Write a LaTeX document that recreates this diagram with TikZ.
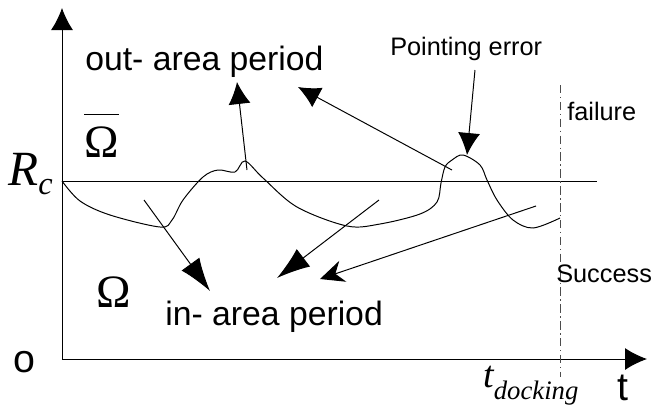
\documentclass[tikz,border=0pt]{standalone}
\usepackage{fontspec}
\setmainfont{Liberation Sans}
\newfontfamily\serif{Liberation Serif}
\usetikzlibrary{calc}
\usetikzlibrary{arrows.meta}

\begin{document}
\begin{tikzpicture}
\tikzstyle{thin} =[draw,line width=0.7pt]
\tikzstyle{pointer} =[thin,-{Latex[length=5.5mm,width=5.5mm]}]
\tikzstyle{bigpointer} =[thin,-{Latex[length=8.3mm,width=5.5mm]}]
\tikzstyle{notchpointer} =[thin,-{Stealth[length=6mm,width=5.5mm]}]
\tikzstyle{label} =[inner sep=0pt,anchor=base west]
\useasboundingbox (-1.55,-1.2) rectangle (14.75,8.975);
\coordinate (orig) at (0,0);

% axes
\coordinate (ytop) at ($(orig)+(0,8.775)$);
\coordinate (xend) at ($(orig)+(14.625,0)$);
\draw[pointer] (orig)--(ytop);
\draw[pointer] (orig)--(xend);

% R_c level and docking time
\coordinate (rcleft) at ($(orig)+(0,4.45)$);
\coordinate (rcright) at ($(orig)+(13.375,4.45)$);
\draw[thin] (rcleft)--(rcright);
\coordinate (dockup) at ($(orig)+(12.45,6.85)$);
\coordinate (dockdown) at ($(orig)+(12.45,-0.45)$);
\draw[thin,draw=black!70,dash pattern=on 6pt off 2.5pt on 1pt off 2.5pt] (dockup)--(dockdown);

% pointing error trace
\draw[thin] plot[smooth,tension=0.55] coordinates {
(0,4.45) (0.45,3.95) (1.2,3.6) (2.45,3.3) (2.75,3.475) (3.025,3.975)
(3.525,4.55) (3.9,4.725) (4.325,4.675) (4.575,4.95) (5.025,4.525)
(5.875,3.8) (7.125,3.325) (7.95,3.375) (8.95,3.625) (9.375,3.925)
(9.475,4.4) (9.575,4.8) (9.75,4.975) (10.025,5.1) (10.45,4.85)
(10.625,4.475) (10.875,3.975) (11.275,3.475) (11.775,3.275) (12.45,3.525)};

% labels
\node[label](outlbl) at ($(orig)+(0.575,7.225)$){\fontsize{24}{28}\selectfont out- area period};
\node[label](inlbl) at ($(orig)+(2.575,0.85)$){\fontsize{24}{28}\selectfont in- area period};
\node[label](errlbl) at ($(orig)+(8.2,7.6)$){\fontsize{18}{21}\selectfont Pointing error};
\node[label](faillbl) at ($(orig)+(12.625,5.975)$){\fontsize{18}{21}\selectfont failure};
\node[label](succlbl) at ($(orig)+(12.35,1.925)$){\fontsize{18}{21}\selectfont Success};
\node[label](olbl) at ($(orig)+(-1.225,-0.325)$){\fontsize{28}{32}\selectfont o};
\node[label](tlbl) at ($(orig)+(13.875,-1.025)$){\fontsize{28}{32}\selectfont t};
\node[label](rclbl) at ($(orig)+(-1.35,4.35)$){\serif\itshape\fontsize{35}{40}\selectfont R\raisebox{-7pt}{\fontsize{23}{26}\selectfont c}};
\node[label](outset) at ($(orig)+(0.55,5.05)$){\fontsize{33}{38}\selectfont$\overline{\hbox{\serif\rule{0pt}{0.88em}Ω}}$};
\node[label](inset) at ($(orig)+(0.85,1.3)$){\serif\fontsize{33}{38}\selectfont Ω};
\node[label](tdock) at ($(orig)+(10.525,-0.7)$){\serif\itshape\fontsize{27}{30}\selectfont t\raisebox{-9pt}{\fontsize{19}{22}\selectfont docking}};

% pointers to out-area periods
\coordinate (bumpA) at ($(orig)+(4.625,4.725)$);
\coordinate (outtipA) at ($(orig)+(4.375,6.925)$);
\draw[pointer] (bumpA)--(outtipA);
\coordinate (bumpB) at ($(orig)+(9.75,4.725)$);
\coordinate (outtipB) at ($(orig)+(5.9,6.8)$);
\draw[pointer] (bumpB)--(outtipB);
\coordinate (errfrom) at ($(orig)+(10.325,7.225)$);
\coordinate (errtip) at ($(orig)+(10.125,5.1)$);
\draw[pointer] (errfrom)--(errtip);

% pointers to in-area periods
\coordinate (dipA) at ($(orig)+(2.05,3.975)$);
\coordinate (intipA) at ($(orig)+(3.7,1.7)$);
\draw[bigpointer] (dipA)--(intipA);
\coordinate (dipB) at ($(orig)+(7.925,3.975)$);
\coordinate (intipB) at ($(orig)+(5.375,2.025)$);
\draw[bigpointer] (dipB)--(intipB);
\coordinate (dipC) at ($(orig)+(11.85,3.825)$);
\coordinate (intipC) at ($(orig)+(6.45,2.0)$);
\draw[notchpointer] (dipC)--(intipC);
\end{tikzpicture}
\end{document}
